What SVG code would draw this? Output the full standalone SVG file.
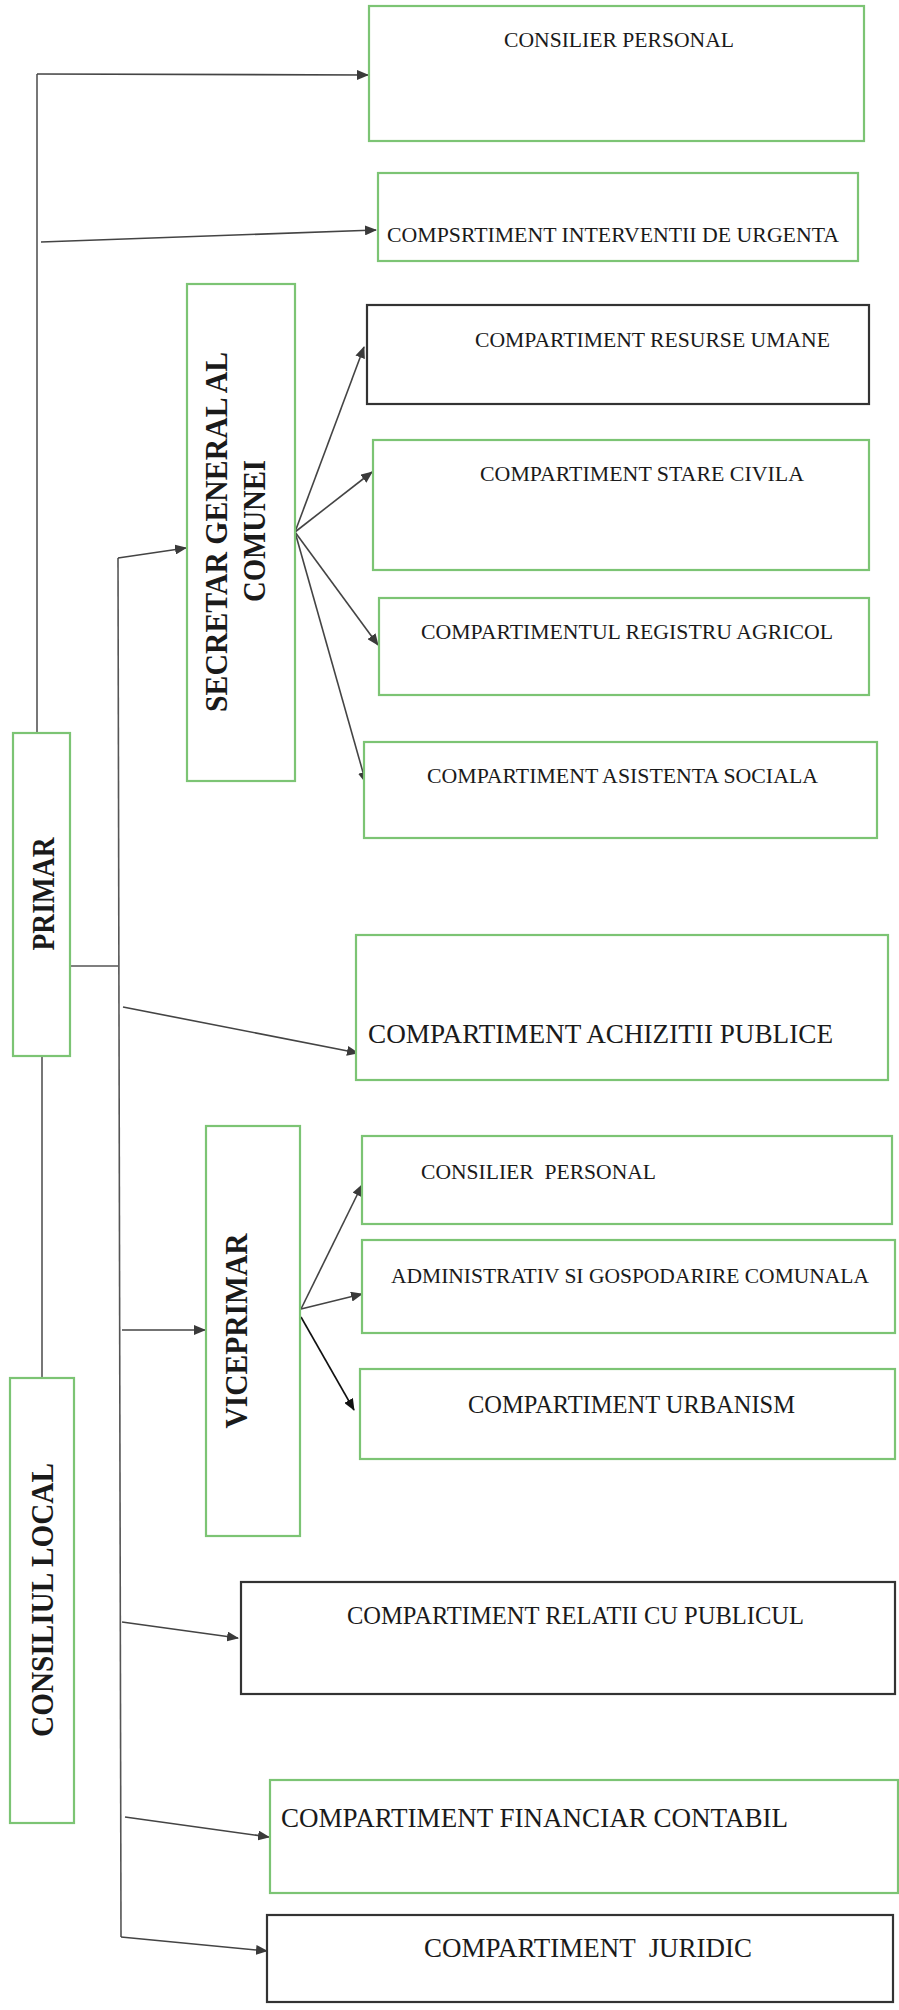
<svg xmlns="http://www.w3.org/2000/svg" width="899" height="2010" viewBox="0 0 899 2010">
<defs>
<marker id="ah" markerWidth="12" markerHeight="10" refX="11" refY="5" orient="auto" markerUnits="userSpaceOnUse">
<path d="M0,0 L12,5 L0,10 Z" fill="#3a3a3a"/>
</marker>
<marker id="ahb" markerWidth="12" markerHeight="10" refX="11" refY="5" orient="auto" markerUnits="userSpaceOnUse">
<path d="M0,0 L12,5 L0,10 Z" fill="#111"/>
</marker>
<style>
.g{fill:#fff;stroke:#7cc474;stroke-width:2.2}
.k{fill:#fff;stroke:#333;stroke-width:2.2}
.t{font-family:"Liberation Serif","Times New Roman",serif;fill:#1a1a1a}
.b{font-family:"Liberation Serif","Times New Roman",serif;font-weight:bold;fill:#1a1a1a;text-anchor:middle}
.c{fill:none;stroke:#555;stroke-width:1.6}
.a{fill:none;stroke:#444;stroke-width:1.6;marker-end:url(#ah)}
.ab{fill:none;stroke:#111;stroke-width:1.6;marker-end:url(#ahb)}
</style>
</defs>
<rect width="899" height="2010" fill="#fff"/>

<g id="connectors">
<polyline class="c" points="37,733 37,74"/>
<line class="a" x1="37" y1="74" x2="368" y2="75"/>
<line class="a" x1="41" y1="242" x2="376" y2="230"/>
<line class="c" x1="42" y1="1056" x2="42" y2="1378"/>
<line class="c" x1="70" y1="966" x2="118" y2="966"/>
<polyline class="c" points="118,558 121,1937"/>
<line class="a" x1="118" y1="558" x2="186" y2="548"/>
<line class="a" x1="123" y1="1007" x2="358" y2="1053"/>
<line class="a" x1="122" y1="1330" x2="205" y2="1330"/>
<line class="a" x1="122" y1="1622" x2="238" y2="1638"/>
<line class="a" x1="125" y1="1817" x2="269" y2="1837"/>
<line class="a" x1="121" y1="1937" x2="267" y2="1951"/>
<line class="a" x1="295" y1="532" x2="364" y2="347"/>
<line class="a" x1="295" y1="532" x2="372" y2="472"/>
<line class="a" x1="295" y1="532" x2="378" y2="645"/>
<line class="a" x1="295" y1="532" x2="366" y2="783"/>
<line class="a" x1="301" y1="1309" x2="362" y2="1185"/>
<line class="a" x1="301" y1="1309" x2="362" y2="1294"/>
<line class="ab" x1="301" y1="1317" x2="354" y2="1410"/>
</g>

<g id="consilier-personal-1">
<rect class="g" x="369" y="6" width="495" height="135"/>
<text class="t" x="504" y="47" font-size="21.5" textLength="230" lengthAdjust="spacingAndGlyphs">CONSILIER PERSONAL</text>
</g>
<g id="interventii-urgenta">
<rect class="g" x="378" y="173" width="480" height="88"/>
<text class="t" x="387" y="242" font-size="21.5" textLength="452" lengthAdjust="spacingAndGlyphs">COMPSRTIMENT INTERVENTII DE URGENTA</text>
</g>
<g id="secretar">
<rect class="g" x="187" y="284" width="108" height="497"/>
<text class="b" transform="translate(227,532) rotate(-90)" font-size="31" textLength="360" lengthAdjust="spacingAndGlyphs">SECRETAR GENERAL AL</text>
<text class="b" transform="translate(265,531) rotate(-90)" font-size="31" textLength="142" lengthAdjust="spacingAndGlyphs">COMUNEI</text>
</g>
<g id="resurse-umane">
<rect class="k" x="367" y="305" width="502" height="99"/>
<text class="t" x="475" y="347" font-size="21.5" textLength="355" lengthAdjust="spacingAndGlyphs">COMPARTIMENT RESURSE UMANE</text>
</g>
<g id="stare-civila">
<rect class="g" x="373" y="440" width="496" height="130"/>
<text class="t" x="480" y="481" font-size="21.5" textLength="324" lengthAdjust="spacingAndGlyphs">COMPARTIMENT STARE CIVILA</text>
</g>
<g id="registru-agricol">
<rect class="g" x="379" y="598" width="490" height="97"/>
<text class="t" x="421" y="639" font-size="21.5" textLength="412" lengthAdjust="spacingAndGlyphs">COMPARTIMENTUL REGISTRU AGRICOL</text>
</g>
<g id="asistenta-sociala">
<rect class="g" x="364" y="742" width="513" height="96"/>
<text class="t" x="427" y="783" font-size="21.5" textLength="391" lengthAdjust="spacingAndGlyphs">COMPARTIMENT ASISTENTA SOCIALA</text>
</g>
<g id="primar">
<rect class="g" x="13" y="733" width="57" height="323"/>
<text class="b" transform="translate(54,894) rotate(-90)" font-size="31" textLength="113" lengthAdjust="spacingAndGlyphs">PRIMAR</text>
</g>
<g id="achizitii-publice">
<rect class="g" x="356" y="935" width="532" height="145"/>
<text class="t" x="368" y="1043" font-size="27.5" textLength="465" lengthAdjust="spacingAndGlyphs">COMPARTIMENT ACHIZITII PUBLICE</text>
</g>
<g id="viceprimar">
<rect class="g" x="206" y="1126" width="94" height="410"/>
<text class="b" transform="translate(247,1331) rotate(-90)" font-size="31" textLength="195" lengthAdjust="spacingAndGlyphs">VICEPRIMAR</text>
</g>
<g id="consilier-personal-2">
<rect class="g" x="362" y="1136" width="530" height="88"/>
<text class="t" x="421" y="1179" font-size="21.5" textLength="235" lengthAdjust="spacingAndGlyphs" xml:space="preserve">CONSILIER  PERSONAL</text>
</g>
<g id="administrativ">
<rect class="g" x="362" y="1240" width="533" height="93"/>
<text class="t" x="391" y="1283" font-size="21.5" textLength="478" lengthAdjust="spacingAndGlyphs">ADMINISTRATIV SI GOSPODARIRE COMUNALA</text>
</g>
<g id="urbanism">
<rect class="g" x="360" y="1369" width="535" height="90"/>
<text class="t" x="468" y="1413" font-size="24.5" textLength="327" lengthAdjust="spacingAndGlyphs">COMPARTIMENT URBANISM</text>
</g>
<g id="consiliul-local">
<rect class="g" x="10" y="1378" width="64" height="445"/>
<text class="b" transform="translate(53,1600) rotate(-90)" font-size="31" textLength="274" lengthAdjust="spacingAndGlyphs">CONSILIUL LOCAL</text>
</g>
<g id="relatii-publicul">
<rect class="k" x="241" y="1582" width="654" height="112"/>
<text class="t" x="347" y="1624" font-size="24.5" textLength="457" lengthAdjust="spacingAndGlyphs">COMPARTIMENT RELATII CU PUBLICUL</text>
</g>
<g id="financiar-contabil">
<rect class="g" x="270" y="1780" width="628" height="113"/>
<text class="t" x="281" y="1827" font-size="27" textLength="507" lengthAdjust="spacingAndGlyphs">COMPARTIMENT FINANCIAR CONTABIL</text>
</g>
<g id="juridic">
<rect class="k" x="267" y="1915" width="626" height="87"/>
<text class="t" x="424" y="1957" font-size="27" textLength="328" lengthAdjust="spacingAndGlyphs" xml:space="preserve">COMPARTIMENT  JURIDIC</text>
</g>
</svg>
